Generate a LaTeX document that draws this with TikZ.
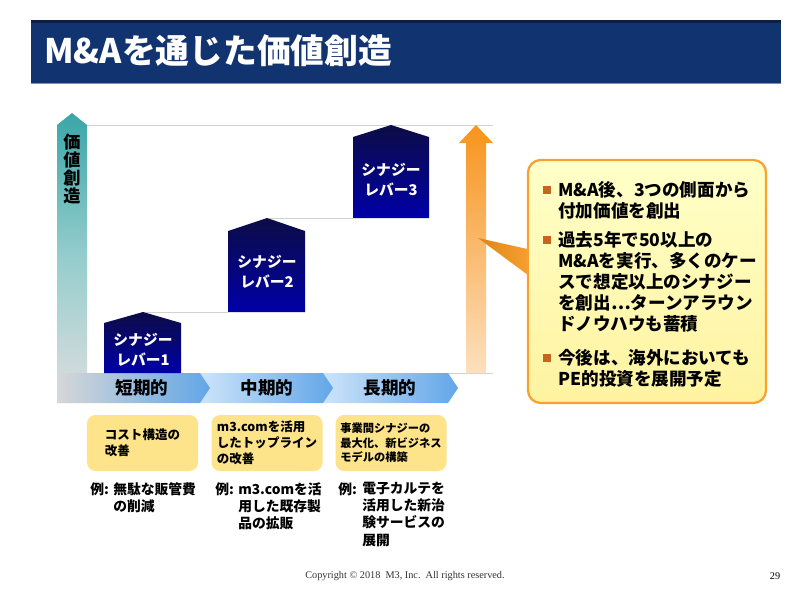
\documentclass[tikz,border=0pt]{standalone}
\usepackage{fontspec}
\setmainfont{Noto Sans CJK JP}
\newfontfamily\footfont{Liberation Serif}
\usetikzlibrary{positioning}

\definecolor{titlenavy}{RGB}{17,52,112}
\definecolor{titledark}{RGB}{10,30,72}
\definecolor{titleline}{RGB}{100,150,215}
\definecolor{axisteal}{RGB}{58,166,168}
\definecolor{axismid}{RGB}{150,205,205}
\definecolor{axisgray}{RGB}{222,222,222}
\definecolor{leverTop}{RGB}{12,12,70}
\definecolor{leverBot}{RGB}{0,0,168}
\definecolor{phaseGray}{RGB}{215,215,215}
\definecolor{phaseLight}{RGB}{205,228,250}
\definecolor{phaseBlue}{RGB}{98,166,232}
\definecolor{arrowTop}{RGB}{247,148,29}
\definecolor{arrowBot}{RGB}{253,224,190}
\definecolor{calloutEdge}{RGB}{248,160,48}
\definecolor{calloutTop}{RGB}{255,255,200}
\definecolor{calloutBot}{RGB}{255,243,160}
\definecolor{bulletbrown}{RGB}{200,100,30}
\definecolor{effectfill}{RGB}{253,227,138}

\begin{document}
\begin{tikzpicture}[
  x=0.25mm, y=-0.25mm,
  lever/.style={top color=leverTop, bottom color=leverBot},
  levertext/.style={
    text=white,
    align=center,
    inner sep=0pt,
    font=\fontsize{10.5}{14}\selectfont\bfseries
  },
  phase/.style={left color=#1, right color=phaseBlue},
  phasetext/.style={inner sep=0pt, font=\fontsize{12.5}{14}\selectfont\bfseries},
  gridline/.style={draw=gray!35, line width=0.6pt},
  callitem/.style={
    anchor=north west,
    align=left,
    inner sep=0pt,
    font=\fontsize{12.5}{15}\selectfont\bfseries
  },
  sqbullet/.style={fill=bulletbrown, minimum size=5.5pt, inner sep=0pt},
  effect/.style={
    rectangle,
    rounded corners=6pt,
    fill=effectfill,
    align=left,
    minimum width=27.75mm,
    minimum height=14mm,
    font=\fontsize{8.9}{11.5}\selectfont\bfseries
  },
  example/.style={
    anchor=north west,
    align=left,
    inner sep=0pt,
    font=\fontsize{9.8}{12.2}\selectfont\bfseries
  },
  footer/.style={inner sep=0pt, font=\footfont\fontsize{7.3}{8.5}\selectfont}
]
\useasboundingbox (0,0) rectangle (800,598);

\fill[titlenavy] (31,21) rectangle (781,84);
\draw[titledark, line width=1.5pt] (31,21.5) -- (781,21.5);
\draw[titleline, line width=1.2pt] (31,83.5) -- (781,83.5);
\node[anchor=west, text=white, inner sep=0pt, font=\fontsize{24}{28}\selectfont\bfseries] (title) at (44,51) {M\&Aを通じた価値創造};

\fill[white] (87,125) rectangle (493,373);
\draw[gridline] (87,125) -- (493,125);
\draw[gridline] (87,373) -- (493,373);
\draw[gridline] (143,312) -- (228,312);
\draw[gridline] (267,218) -- (353,218);

\shade[top color=axisteal, bottom color=axisgray, middle color=axismid] (57,403) -- (57,125) -- (72,113) -- (87,125) -- (87,403) -- cycle;
\node[align=center, inner sep=0pt, font=\fontsize{12.2}{12.8}\selectfont\bfseries] (vlabel) at (72,169) {価\\値\\創\\造};

\shade[phase=phaseLight] (323,373) -- (448,373) -- (458,388) -- (448,403) -- (323,403) -- cycle;
\shade[phase=phaseLight] (200,373) -- (323,373) -- (333,388) -- (323,403) -- (200,403) -- cycle;
\shade[phase=phaseGray] (57,373) -- (200,373) -- (210,388) -- (200,403) -- (57,403) -- cycle;
\node[phasetext] (short) at (142,388) {短期的};
\node[phasetext] (mid) at (267,388) {中期的};
\node[phasetext] (long) at (390,388) {長期的};

\shade[lever] (104,373) -- (104,323) -- (143,312) -- (181,323) -- (181,373) -- cycle;
\shade[lever] (228,312) -- (228,231) -- (267,218) -- (305,231) -- (305,312) -- cycle;
\shade[lever] (353,218) -- (353,137) -- (391,125) -- (429,137) -- (429,218) -- cycle;
\node[levertext] (lever1) at (143,350) {シナジー\\レバー1};
\node[levertext] (lever2) at (267,272) {シナジー\\レバー2};
\node[levertext] (lever3) at (391,180) {シナジー\\レバー3};

\shade[top color=arrowTop, bottom color=arrowBot] (466,373) -- (466,143) -- (459,143) -- (476,125) -- (493,143) -- (486,143) -- (486,373) -- cycle;

\coordinate (tip) at (478,238);
\shade[left color=arrowTop!90!black, right color=calloutEdge] (tip) -- (532,250) -- (532,278) -- cycle;
\node[rectangle, rounded corners=9pt, draw=calloutEdge, line width=1.6pt, top color=calloutTop, bottom color=calloutBot, minimum width=59.5mm, minimum height=60.75mm] (callout) at (647,281.5) {};

\node[sqbullet] (sq1) at (547,190) {};
\node[sqbullet] (sq2) at (547,240) {};
\node[sqbullet] (sq3) at (547,358) {};
\node[callitem] (item1) at (558,181) {M\&A後、3つの側面から\\付加価値を創出};
\node[callitem] (item2) at (558,231) {過去5年で50以上の\\M\&Aを実行、多くのケー\\スで想定以上のシナジー\\を創出…ターンアラウン\\ドノウハウも蓄積};
\node[callitem] (item3) at (558,349) {今後は、海外においても\\PE的投資を展開予定};

\node[effect] (cost) at (142.5,443) {コスト構造の\\改善};
\node[effect] (topline) at (267,443) {m3.comを活用\\したトップライン\\の改善};
\node[effect, font=\fontsize{8}{10.4}\selectfont\bfseries] (synergy) at (391,443) {事業間シナジーの\\最大化、新ビジネス\\モデルの構築};

\node[example] (exlab1) at (90,482) {例:};
\node[example] (ex1) at (113,482) {無駄な販管費\\の削減};
\node[example] (exlab2) at (215,482) {例:};
\node[example] (ex2) at (238,482) {m3.comを活\\用した既存製\\品の拡販};
\node[example] (exlab3) at (338,482) {例:};
\node[example] (ex3) at (362,482) {電子カルテを\\活用した新治\\験サービスの\\展開};

\node[footer, text=black!80] (copy) at (405,576) {Copyright © 2018\ \ M3, Inc.\ \ All rights reserved.};
\node[footer] (page) at (775,576) {29};

\end{tikzpicture}
\end{document}
